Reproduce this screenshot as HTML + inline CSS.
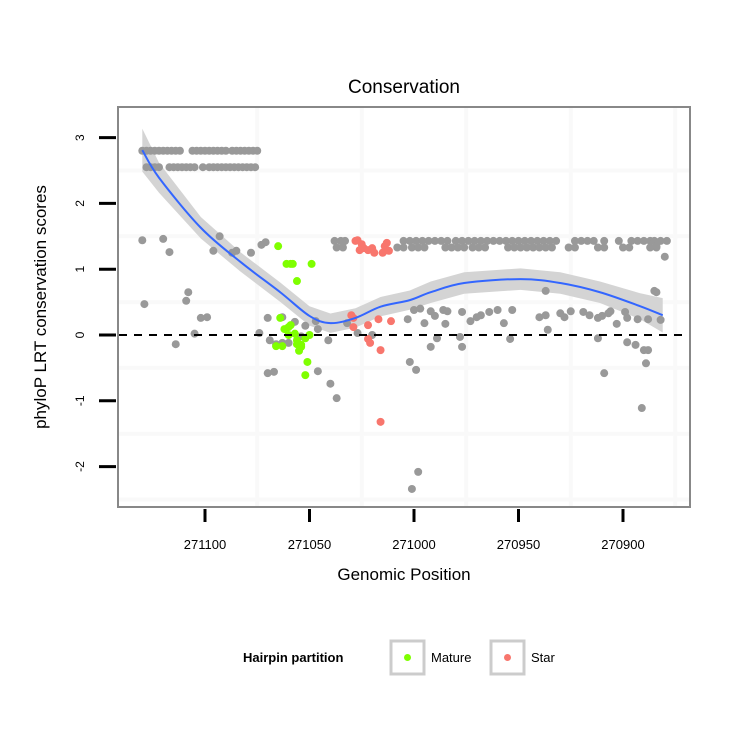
<!DOCTYPE html>
<html><head><meta charset="utf-8"><style>
body{margin:0;background:#fff;font-family:"Liberation Sans",sans-serif}
svg text{font-family:"Liberation Sans",sans-serif}
</style></head><body>
<svg id="c" width="750" height="750">
<rect width="750" height="750" fill="#fff"/>
<text x="404" y="93" text-anchor="middle" font-size="19">Conservation</text>
<rect x="118" y="107" width="572" height="400" fill="#fff"/>
<g id="grid"></g><g id="band"></g><g id="pts"></g><g id="axes"></g>
<rect x="118" y="107" width="572" height="400" fill="none" stroke="#888" stroke-width="2"/>
<text x="404" y="580" text-anchor="middle" font-size="17">Genomic Position</text>
<text transform="translate(46,307) rotate(-90)" text-anchor="middle" font-size="17">phyloP LRT conservation scores</text>
<g>
<text x="243" y="662" font-size="13" font-weight="bold">Hairpin partition</text>
<rect x="391" y="641" width="33" height="33" fill="#fff" stroke="#ccc" stroke-width="3"/>
<circle cx="407.5" cy="657.5" r="3.5" fill="#7fff00"/>
<text x="431" y="662" font-size="13">Mature</text>
<rect x="491" y="641" width="33" height="33" fill="#fff" stroke="#ccc" stroke-width="3"/>
<circle cx="507.5" cy="657.5" r="3.5" fill="#f8766d"/>
<text x="531" y="662" font-size="13">Star</text>
</g>
</svg>
<script>
const xTicks=[271100,271050,271000,270950,270900];
const xTickLabels=["271100","271050","271000","270950","270900"];
const yTicks=[3,2,1,0,-1,-2];
const yTickLabels=["3","2","1","0","-1","-2"];
const xGrid=[271075,271025,270975,270925,270875];
const yGrid=[2.5,1.5,0.5,-0.5,-1.5,-2.5];
const greyX=[271130,271128,271126,271124,271122,271120,271118,271116,271114,271112,271106,271104,271102,271100,271098,271096,271094,271092,271090,271087,271085,271083,271081,271079,271077,271075,
271128,271126,271124,271122,271117,271115,271113,271111,271109,271107,271105,271101,271098,271096,271094,271092,271090,271088,271086,271084,271082,271080,271078,271076,
271038,271035,271033,271005,271002,270999,270996,270993,270990,270987,270984,270980,270977,270974,270971,270968,270965,270962,270959,270956,270953,270950,270947,270944,270941,270938,270935,270932,270923,270920,270917,270914,270909,270902,270896,270893,270890,270887,270885,270882,270879,
271037,271034,271008,271005,271001,270998,270995,270985,270982,270979,270976,270972,270969,270966,270955,270952,270949,270946,270943,270940,270937,270934,270926,270923,270912,270909,270900,270897,270887,270884,270884,270880,
271130,271129,271120,271117,271114,271109,271108,271105,271102,271099,271096,271093,271087,271085,271078,271073,271071,271074,271070,271070,271067,271069,271066,271063,271063,271060,271057,271054,271052,271047,271046,271046,271041,271040,271037,271032,271027,271020,271003,271002,270999,271001,270998,
271000,270997,270992,270995,270990,270986,270984,270985,270989,270992,270977,270978,270977,270973,270970,270968,270964,270960,270957,270954,270953,270940,270937,270936,270937,270930,270928,270925,270919,270916,270912,270910,270907,270906,270903,270898,270893,270888,270899,270912,270909,270898,270894,270890,270888,270889,270891,270885,270884,270882];
const greyY=[2.8,2.8,2.8,2.8,2.8,2.8,2.8,2.8,2.8,2.8,2.8,2.8,2.8,2.8,2.8,2.8,2.8,2.8,2.8,2.8,2.8,2.8,2.8,2.8,2.8,2.8,
2.55,2.55,2.55,2.55,2.55,2.55,2.55,2.55,2.55,2.55,2.55,2.55,2.55,2.55,2.55,2.55,2.55,2.55,2.55,2.55,2.55,2.55,2.55,2.55,
1.43,1.43,1.43,1.43,1.43,1.43,1.43,1.43,1.43,1.43,1.43,1.43,1.43,1.43,1.43,1.43,1.43,1.43,1.43,1.43,1.43,1.43,1.43,1.43,1.43,1.43,1.43,1.43,1.43,1.43,1.43,1.43,1.43,1.43,1.43,1.43,1.43,1.43,1.43,1.43,1.43,
1.33,1.33,1.33,1.33,1.33,1.33,1.33,1.33,1.33,1.33,1.33,1.33,1.33,1.33,1.33,1.33,1.33,1.33,1.33,1.33,1.33,1.33,1.33,1.33,1.33,1.33,1.33,1.33,1.33,1.33,1.35,1.19,
1.44,0.47,1.46,1.26,-0.14,0.52,0.65,0.02,0.26,0.27,1.28,1.5,1.25,1.28,1.25,1.37,1.41,0.03,0.26,-0.58,-0.56,-0.08,-0.14,-0.12,0.27,-0.12,0.2,-0.02,0.14,0.21,-0.55,0.09,-0.08,-0.74,-0.96,0.18,0.03,0,0.24,-0.41,-0.53,-2.34,-2.08,
0.38,0.4,0.36,0.18,0.29,0.38,0.36,0.17,-0.05,-0.18,0.35,-0.03,-0.18,0.21,0.27,0.3,0.35,0.38,0.18,-0.06,0.38,0.27,0.3,0.08,0.67,0.33,0.27,0.36,0.35,0.3,0.26,0.29,0.33,0.36,0.17,0.26,0.24,0.24,0.35,-0.05,-0.58,-0.11,-0.15,-0.23,-0.23,-0.43,-1.11,0.67,0.65,0.23];
const starX=[271028,271027,271025,271024,271026,271022,271020,271014,271013,271014,271012,271015,271019,271030,271029,271029,271022,271017,271011,271022,271021,271016,271016];
const starY=[1.43,1.44,1.38,1.32,1.29,1.29,1.32,1.35,1.4,1.28,1.28,1.25,1.25,0.3,0.26,0.12,0.15,0.24,0.21,-0.06,-0.12,-0.23,-1.32];
const matureX=[271065,271061,271059,271058,271049,271056,271064,271062,271060,271059,271060,271057,271056,271055,271054,271056,271052,271066,271063,271051,271052,271054,271050];
const matureY=[1.35,1.08,1.08,1.08,1.08,0.82,0.26,0.09,0.12,0.15,0,0.02,-0.14,-0.24,-0.15,-0.08,-0.05,-0.17,-0.17,-0.41,-0.61,-0.18,0];
const fitX=[271130,271122,271102,271083,271064,271050,271040,271028,271016,271002,270992,270976,270949,270930,270911,270892,270881];
const fitY=[2.81,2.39,1.63,1.11,0.65,0.29,0.18,0.26,0.43,0.53,0.65,0.79,0.85,0.79,0.65,0.44,0.3];
const fitSE=[0.2,0.14,0.1,0.09,0.09,0.09,0.09,0.09,0.09,0.09,0.1,0.1,0.1,0.1,0.1,0.12,0.16];
const sx=p=>205+(271100-p)*2.09;
const sy=v=>335-v*65.8;
const NS="http://www.w3.org/2000/svg";
function mk(t,a,parent){const e=document.createElementNS(NS,t);for(const k in a)e.setAttribute(k,a[k]);parent.appendChild(e);return e;}
const grid=document.getElementById('grid'),band=document.getElementById('band'),pts=document.getElementById('pts'),axes=document.getElementById('axes');
xGrid.forEach(g=>{const l=mk('line',{x1:sx(g),x2:sx(g),y1:108,y2:506,stroke:'#f9f9f9','stroke-width':4},grid);

});
yGrid.forEach(g=>{const l=mk('line',{x1:119,x2:689,y1:sy(g),y2:sy(g),stroke:'#f9f9f9','stroke-width':4},grid);

});
let up=fitX.map((x,i)=>sx(x)+','+sy(fitY[i]+fitSE[i]*1.96/1.2)).join(' ');
let dn=fitX.map((x,i)=>sx(x)+','+sy(fitY[i]-fitSE[i]*1.96/1.2)).reverse().join(' ');
const b=mk('polygon',{points:up+' '+dn,fill:'#d4d4d4'},band);


function dots(X,Y,col,name){X.forEach((x,i)=>{const c=mk('circle',{cx:sx(x),cy:sy(Y[i]),r:4,fill:col},pts);

});}
dots(greyX,greyY,'#999999','point-other');
dots(starX,starY,'#f8766d','point-star');
dots(matureX,matureY,'#7fff00','point-mature');
const P=fitX.map((x,i)=>[sx(x),sy(fitY[i])]);
let d='M'+P[0];
for(let i=0;i<P.length-1;i++){const p0=P[i-1]||P[i],p1=P[i],p2=P[i+1],p3=P[i+2]||p2;
d+=' C'+(p1[0]+(p2[0]-p0[0])/6)+','+(p1[1]+(p2[1]-p0[1])/6)+' '+(p2[0]-(p3[0]-p1[0])/6)+','+(p2[1]-(p3[1]-p1[1])/6)+' '+p2;}
const fl=mk('path',{d:d,fill:'none',stroke:'#3366ff','stroke-width':2},pts);


const z=mk('line',{x1:119,x2:689,y1:sy(0),y2:sy(0),stroke:'#000','stroke-width':2,'stroke-dasharray':'8,7'},pts);


xTicks.forEach((t,i)=>{const l=mk('line',{x1:sx(t),x2:sx(t),y1:509,y2:522,stroke:'#000','stroke-width':3},axes);


const tx=mk('text',{x:sx(t),y:549,'text-anchor':'middle','font-size':13},axes);tx.textContent=xTickLabels[i];

});
yTicks.forEach((t,i)=>{const l=mk('line',{x1:99,x2:116,y1:sy(t),y2:sy(t),stroke:'#000','stroke-width':3},axes);


const tx=mk('text',{transform:'translate('+84+','+sy(t)+') rotate(-90)','text-anchor':'middle','font-size':12},axes);tx.textContent=yTickLabels[i];

});
</script>
</body></html>
